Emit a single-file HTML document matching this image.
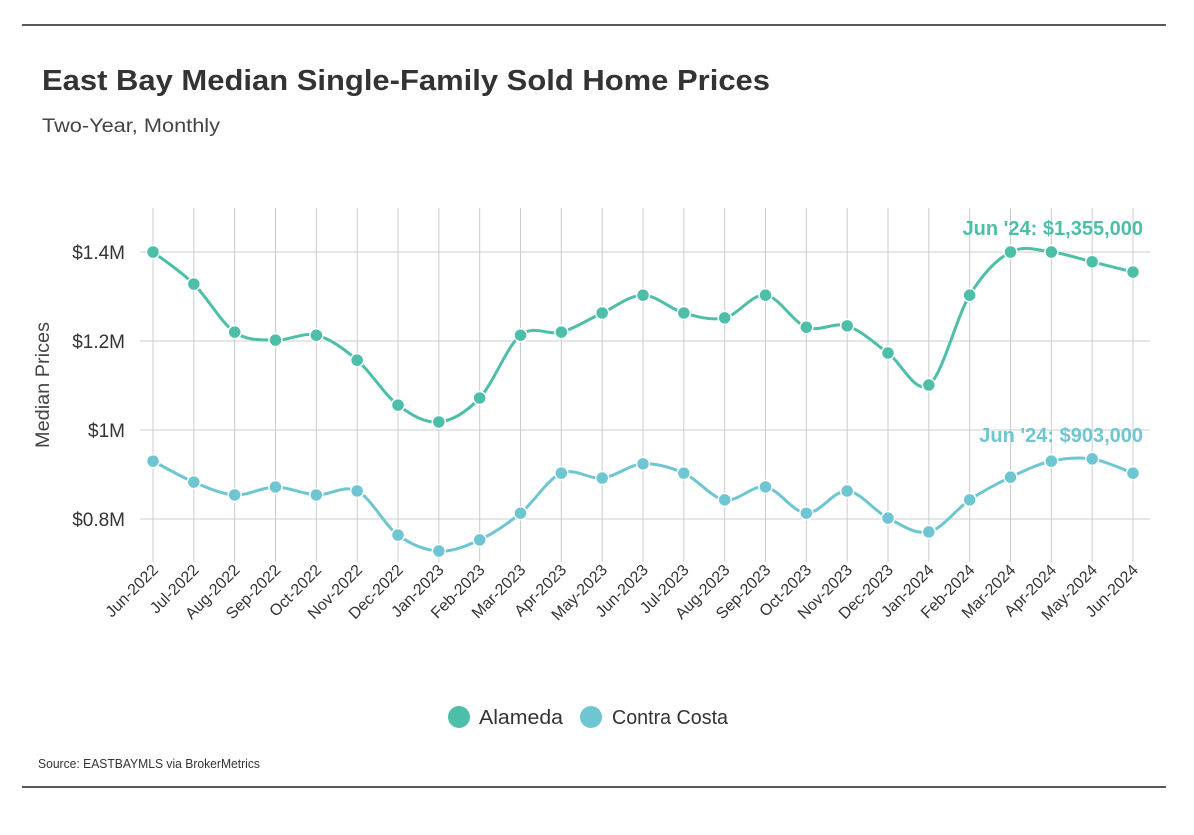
<!DOCTYPE html>
<html><head><meta charset="utf-8"><style>
body{margin:0;background:#fff;font-family:"Liberation Sans",sans-serif;}
svg text{font-family:"Liberation Sans",sans-serif;}
</style></head><body>
<svg id="c" width="1194" height="830">
<line x1="22" y1="25" x2="1166" y2="25" stroke="#222" stroke-width="1.5"/>
<line x1="22" y1="787" x2="1166" y2="787" stroke="#222" stroke-width="1.5"/>
<text x="42" y="90" font-size="29" font-weight="bold" fill="#333" textLength="728" lengthAdjust="spacingAndGlyphs">East Bay Median Single-Family Sold Home Prices</text>
<text x="42" y="132" font-size="19" fill="#444" textLength="178" lengthAdjust="spacingAndGlyphs">Two-Year, Monthly</text>
<text transform="translate(49,385) rotate(-90)" text-anchor="middle" font-size="19" fill="#444" textLength="126" lengthAdjust="spacingAndGlyphs">Median Prices</text>
<g id="grid"></g><g id="series"></g><g id="xl"></g>
<g>
<circle cx="459" cy="717" r="11" fill="#4dbfa8"/>
<text x="479" y="724" font-size="20" fill="#333" textLength="84" lengthAdjust="spacingAndGlyphs">Alameda</text>
<circle cx="591" cy="717" r="11" fill="#6ec6d2"/>
<text x="612" y="724" font-size="20" fill="#333" textLength="116" lengthAdjust="spacingAndGlyphs">Contra Costa</text>
</g>
<text x="38" y="768" font-size="13" fill="#333" textLength="222" lengthAdjust="spacingAndGlyphs">Source:  EASTBAYMLS via BrokerMetrics</text>
</svg>
<script>
const categories=["Jun-2022","Jul-2022","Aug-2022","Sep-2022","Oct-2022","Nov-2022","Dec-2022","Jan-2023","Feb-2023","Mar-2023","Apr-2023","May-2023","Jun-2023","Jul-2023","Aug-2023","Sep-2023","Oct-2023","Nov-2023","Dec-2023","Jan-2024","Feb-2024","Mar-2024","Apr-2024","May-2024","Jun-2024"];
const alameda=[1.400,1.328,1.220,1.202,1.213,1.157,1.056,1.018,1.072,1.213,1.220,1.263,1.303,1.263,1.252,1.303,1.231,1.234,1.173,1.101,1.303,1.400,1.400,1.378,1.355];
const contraCosta=[0.930,0.883,0.854,0.872,0.854,0.863,0.764,0.728,0.753,0.813,0.903,0.892,0.924,0.903,0.843,0.872,0.813,0.863,0.802,0.771,0.843,0.894,0.930,0.935,0.903];
const yTicks=[0.8,1.0,1.2,1.4];
const yTickLabels=["$0.8M","$1M","$1.2M","$1.4M"];
const alamedaLabel="Jun '24: $1,355,000";
const contraLabel="Jun '24: $903,000";
const NS="http://www.w3.org/2000/svg";
const X=i=>153+i*(1133-153)/(categories.length-1);
const Y=v=>252+(1.4-v)*445;
function mk(t,a,p){const e=document.createElementNS(NS,t);for(const k in a)e.setAttribute(k,a[k]);p.appendChild(e);return e;}
const grid=document.getElementById('grid'),ser=document.getElementById('series'),xl=document.getElementById('xl');
yTicks.forEach((v,i)=>{
 const l=mk('line',{x1:140,x2:1150,y1:Y(v),y2:Y(v),stroke:'#ccc','stroke-width':1},grid);
 
 
 const t=mk('text',{x:125,y:Y(v)+7,'text-anchor':'end','font-size':19,fill:'#333'},grid);t.textContent=yTickLabels[i];
 
 
});
categories.forEach((c,i)=>{
 const l=mk('line',{x1:X(i),x2:X(i),y1:208,y2:562,stroke:'#ccc','stroke-width':1},grid);
 
 
 const t=mk('text',{transform:`translate(${X(i)+6},${571}) rotate(-45)`,'text-anchor':'end','font-size':16,fill:'#333'},xl);t.textContent=c;
 
 
});
function path(vals){const p=vals.map((v,i)=>[X(i),Y(v)]);let d=`M${p[0][0]},${p[0][1]}`;
 for(let i=0;i<p.length-1;i++){const p0=p[i-1]||p[i],p1=p[i],p2=p[i+1],p3=p[i+2]||p2;
  d+=` C${p1[0]+(p2[0]-p0[0])/6},${p1[1]+(p2[1]-p0[1])/6} ${p2[0]-(p3[0]-p1[0])/6},${p2[1]-(p3[1]-p1[1])/6} ${p2[0]},${p2[1]}`;}return d;}
function draw(vals,col,name,label){
 const g=mk('g',{},ser);
 const pa=mk('path',{d:path(vals),fill:'none',stroke:col,'stroke-width':3},g);
 
 
 vals.forEach((v,i)=>{const c=mk('circle',{cx:X(i),cy:Y(v),r:6.5,fill:col,stroke:'#fff','stroke-width':1.5},g);
  
  });
 const n=vals.length-1;
 const t=mk('text',{x:X(n)+10,y:Y(vals[n])-Math.max(0,Y(vals[n])-Y(Math.max(...vals.slice(-3))))-17,'text-anchor':'end','font-size':20,'font-weight':'bold',fill:col},g);t.textContent=label;
 
 
}
draw(alameda,'#4dbfa8','alameda',alamedaLabel);
draw(contraCosta,'#6ec6d2','contra-costa',contraLabel);
</script>
</body></html>
